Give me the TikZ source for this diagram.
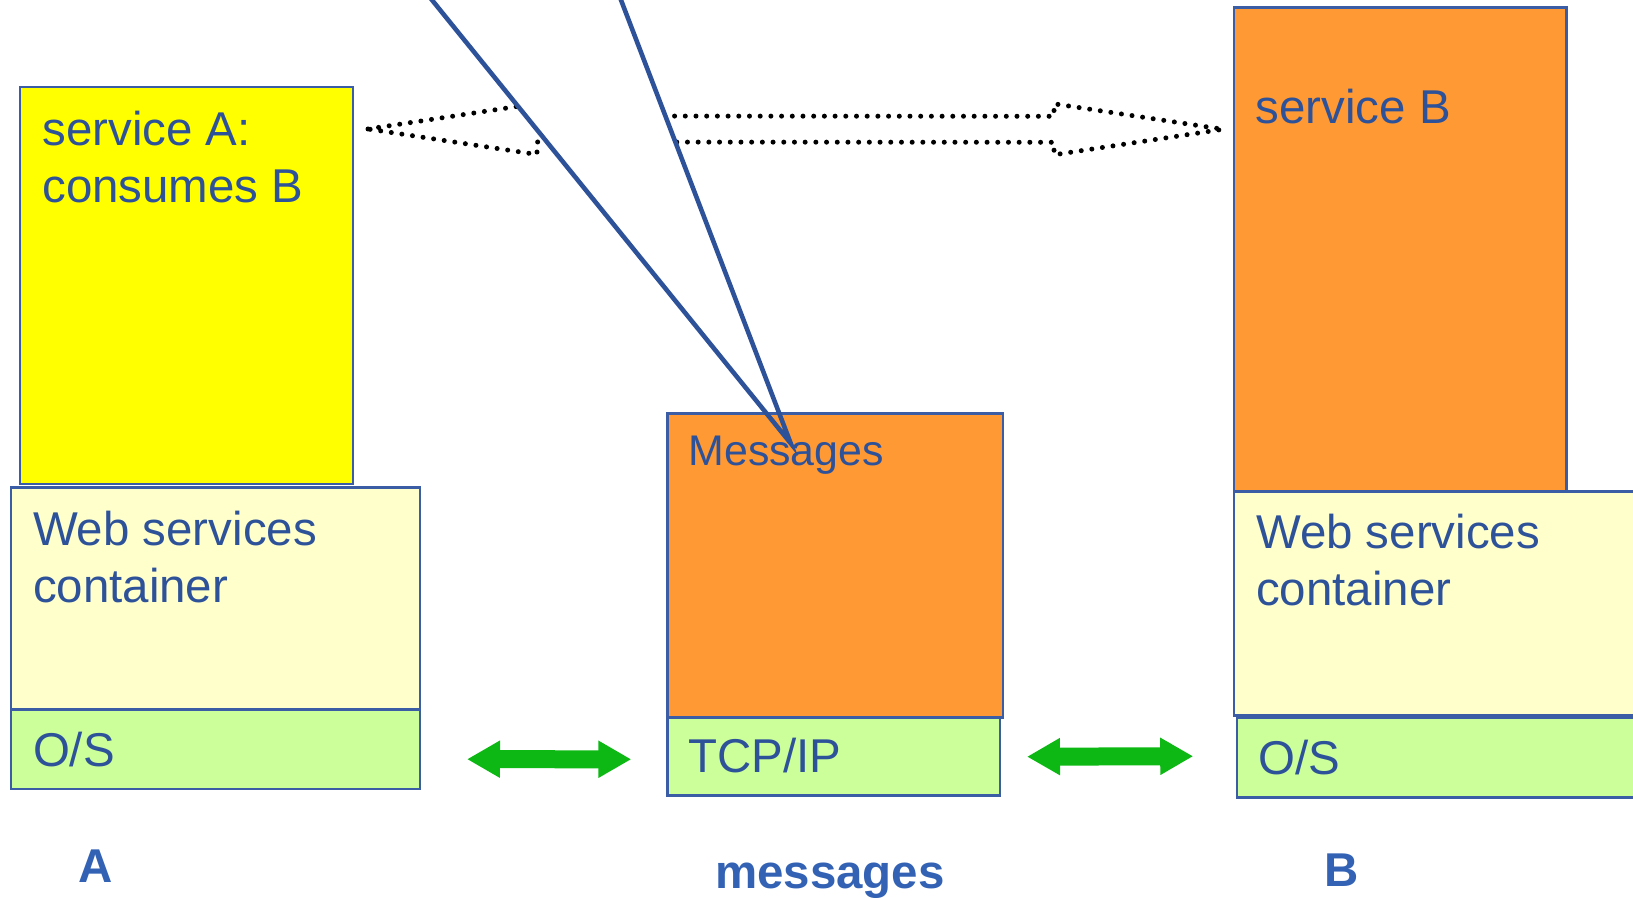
\documentclass[tikz,border=0pt]{standalone}
\usepackage{fontspec}
\setmainfont{Liberation Sans}
\usetikzlibrary{arrows.meta,backgrounds,calc,positioning}
\definecolor{lineblue}{HTML}{3A5DA6}
\definecolor{txtblue}{HTML}{2E5299}
\definecolor{lblblue}{HTML}{3362B4}
\definecolor{svcyellow}{HTML}{FFFF00}
\definecolor{cream}{HTML}{FFFFCC}
\definecolor{msgorange}{HTML}{FF9933}
\definecolor{osgreen}{HTML}{CCFF99}
\definecolor{linkgreen}{HTML}{0DB814}
\newcommand{\twolines}[2]{\begin{tabular}[t]{@{}l@{}}#1\\#2\end{tabular}}

\begin{document}
\begin{tikzpicture}[x=0.1mm,y=-0.1mm,
  box/.style={draw=lineblue,line width=0.7pt,anchor=north west,inner sep=0,outer sep=0},
  txt/.style={anchor=base west,inner sep=0,text=txtblue,font=\fontsize{13.5}{16.2}\selectfont},
  tag/.style={anchor=base west,inner sep=0,text=lblblue,font=\fontsize{13.5}{16.2}\selectfont\bfseries},
  link/.style={draw=linkgreen,line width=1.8mm,{Triangle[length=3.3mm,width=3.5mm]}-{Triangle[length=3.3mm,width=3.5mm]}},
  dotline/.style={black,line width=0.5mm,line cap=round,dash pattern=on 0pt off 1.07mm},
  pointer/.style={draw=txtblue,line width=1.3pt}]
\useasboundingbox (0,0) rectangle (1633,898);
\clip (0,0) rectangle (1633,898);
% host A
\node[box,fill=svcyellow,minimum width=33.3mm,minimum height=39.7mm] (svcA) at (20,87) {};
\node[box,fill=cream,minimum width=40.9mm,minimum height=22.21mm] (wscA) at (11,487.3) {};
\node[box,fill=osgreen,minimum width=40.9mm,minimum height=7.96mm] (osA) at (wscA.south west) {};
% network
\node[box,fill=msgorange,minimum width=33.57mm,minimum height=30.4mm] (msg) at (667.3,413.7) {};
\node[box,fill=osgreen,minimum width=33.27mm,minimum height=7.8mm] (tcp) at (msg.south west) {};
% host B
\node[box,fill=msgorange,minimum width=33.27mm,minimum height=48.44mm] (svcB) at (1234,7.3) {};
\node[box,fill=cream,minimum width=42mm,minimum height=22.36mm] (wscB) at (svcB.south west) {};
\node[box,fill=osgreen,minimum width=41.7mm,minimum height=8.03mm] (osB) at ($(wscB.south west)+(2.8,2)$) {};

\node[txt] (svcAtxt) at ($(svcA.north west)+(21.7,59)$) {\twolines{service A:}{consumes B}};
\node[txt] (wscAtxt) at ($(wscA.north west)+(21.3,58.4)$) {\twolines{Web services}{container}};
\node[txt] (osAtxt) at ($(osA.north west)+(21.3,57.5)$) {O/S};
\node[txt,font=\fontsize{12.2}{14.6}\selectfont] (msgtxt) at ($(msg.north west)+(20.5,52.3)$) {Messages};
\node[txt] (tcptxt) at ($(tcp.north west)+(20.7,55)$) {TCP/IP};
\node[txt] (svcBtxt) at ($(svcB.north west)+(21,116)$) {service B};
\node[txt] (wscBtxt) at ($(wscB.north west)+(21.4,57)$) {\twolines{Web services}{container}};
\node[txt] (osBtxt) at ($(osB.north west)+(21.2,57.3)$) {O/S};

\node[tag] (hostA) at (77.3,882.7) {A};
\node[tag,anchor=base] (wire) at (830,888) {messages};
\node[tag] (hostB) at (1324,886) {B};

\coordinate (tipA) at ($(svcA.north east)+(15,42)$);
\coordinate (tipB) at ($(svcB.north west)+(-11,122)$);
\coordinate (msgtip) at ($(msg.north west)+(123.4,29.6)$);
\coordinate (ptrL) at (407.7,-30);
\coordinate (ptrR) at (609.5,-30);
\begin{scope}[on background layer]
\draw[dotline] (tipA) -- ++(169,-25.5) -- ++(0,12.5) -- ($(tipB)+(-169,-13)$) -- ++(0,-12.5)
  -- (tipB) -- ++(-169,25.5) -- ++(0,-12.5) -- ($(tipA)+(169,13)$) -- ++(0,12.5) -- cycle;
\fill[white] (ptrL) -- (msgtip) -- (ptrR) -- cycle;
\end{scope}

\draw[link] ($(osA.east)+(47,10)$) -- ($(tcp.west)+(-36,2.6)$);
\draw[link] ($(tcp.east)+(27,0)$) -- ($(osB.west)+(-43.6,-1.2)$);
\draw[pointer] (ptrL) -- (msgtip) -- (ptrR);
\end{tikzpicture}
\end{document}
